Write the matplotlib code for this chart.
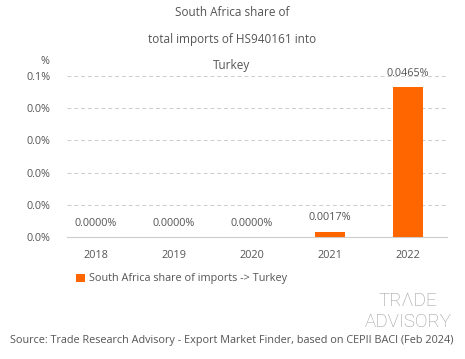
import matplotlib.pyplot as plt

years = ["2018", "2019", "2020", "2021", "2022"]
share = [0.0, 0.0, 0.0, 0.0017, 0.0465]
value_labels = ["0.0000%", "0.0000%", "0.0000%", "0.0017%", "0.0465%"]
yticks = [0.0, 0.01, 0.02, 0.03, 0.04, 0.05]

plt.rcParams['font.family'] = ['Open Sans', 'DejaVu Sans']
grey = '#555555'
orange = '#ff6600'

fig = plt.figure(figsize=(4.65, 3.59), dpi=100)
W, H = 465, 359
ax = fig.add_axes([67 / W, 1 - 237 / H, (447 - 67) / W, (237 - 76) / H])

x = range(len(years))
ax.bar(x, share, width=0.38, color=orange, zorder=3,
       label="South Africa share of imports -> Turkey")
for i, (v, lab) in enumerate(zip(share, value_labels)):
    ax.annotate(lab, (i, v), xytext=(0, 6), textcoords='offset points',
                ha='center', va='bottom', fontsize=7.8, color=grey)

ax.set_xlim(-0.37, 4.5)
ax.set_ylim(0, 0.05)
ax.set_xticks(list(x))
ax.set_xticklabels(years)
ax.set_yticks(yticks)
ax.set_yticklabels([f"{t:.1f}%" for t in yticks])
ax.tick_params(length=0, labelsize=7.8, colors=grey)
ax.tick_params(axis='x', pad=9)
ax.tick_params(axis='y', pad=12)
ax.grid(axis='y', color='#cccccc', linestyle=(0, (4, 3)), linewidth=0.7, zorder=0)
for s in ['top', 'right', 'left']:
    ax.spines[s].set_visible(False)
ax.spines['bottom'].set_color('#cccccc')

fig.text(45 / W, 1 - 61 / H, "%", fontsize=7.8, color=grey, ha='center', va='center')
for txt, yy in [("South Africa share of", 12), ("total imports of HS940161 into", 40), ("Turkey", 66)]:
    fig.text(232 / W, 1 - yy / H, txt, fontsize=8.5, color=grey, ha='center', va='center')

fig.legend(loc='center left', bbox_to_anchor=(76 / W, 1 - 279 / H), frameon=False,
           fontsize=7.8, labelcolor=grey, handlelength=0.8, handleheight=0.8,
           handletextpad=0.4, borderaxespad=0, borderpad=0)

fig.text(408 / W, 1 - 301 / H, "TRΛDE", fontsize=13.5, color='#999999', ha='center', va='center',
         family='Roboto', fontweight='light')
fig.text(408 / W, 1 - 322 / H, "ADVISORY", fontsize=13.5, color='#999999', ha='center', va='center',
         family='Roboto', fontweight='light')

fig.text(232 / W, 1 - 340 / H,
         "Source: Trade Research Advisory - Export Market Finder, based on CEPII BACI (Feb 2024)",
         fontsize=7.8, color=grey, ha='center', va='center')

fig.savefig("out.png", dpi=100)
